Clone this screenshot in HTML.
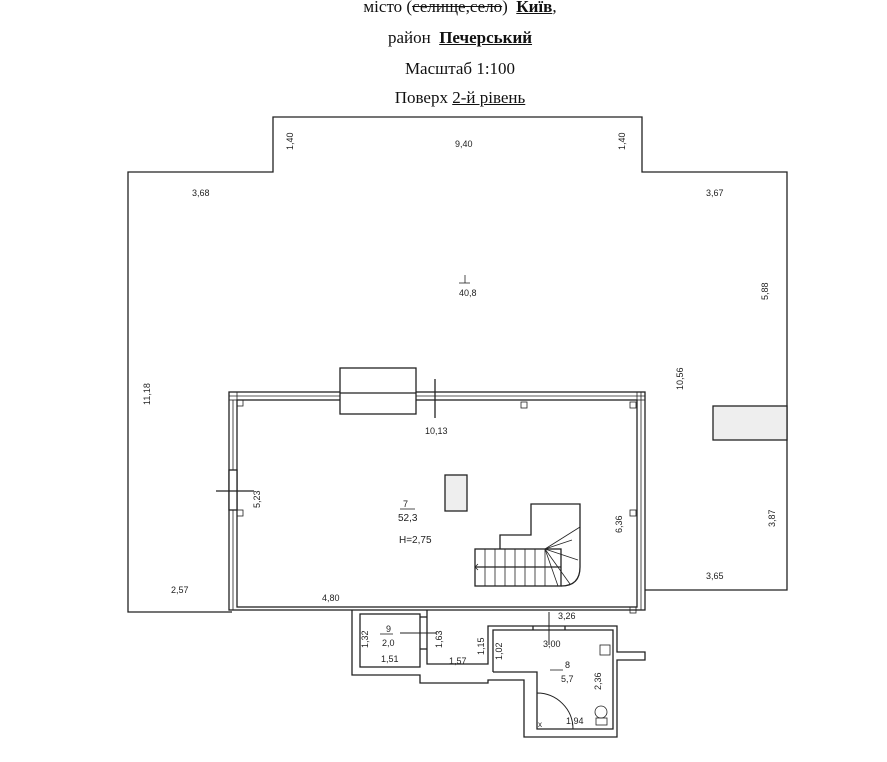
<!DOCTYPE html>
<html><head><meta charset="utf-8"><style>
html,body{margin:0;padding:0;background:#fff;}
body{width:887px;height:762px;overflow:hidden;position:relative;font-family:"Liberation Serif",serif;}
.h{position:absolute;left:0;width:920px;text-align:center;font-size:17px;color:#111;}
</style></head><body>
<div class="h" style="top:-3px">місто (<s>селище,село</s>)&nbsp; <b><u>Київ</u></b>,</div>
<div class="h" style="top:28px">район&nbsp; <b><u>Печерський</u></b></div>
<div class="h" style="top:59px">Масштаб 1:100</div>
<div class="h" style="top:88px">Поверх <u>2-й рівень</u></div>
<svg width="887" height="762" style="position:absolute;left:0;top:0" font-family="Liberation Sans Narrow, Liberation Sans, sans-serif" font-size="9" fill="#222">
<g stroke="#222" stroke-width="1.3" fill="none">
<polyline points="232,612 128,612 128,172 273,172 273,117 642,117 642,172 787,172 787,590 645,590"/>
<!-- main room walls -->
<rect x="229" y="392" width="416" height="218" fill="none"/>
<rect x="237" y="400" width="400" height="207"/>
<line x1="229" y1="396" x2="645" y2="396" stroke-width="0.8"/>
<line x1="641" y1="392" x2="641" y2="610" stroke-width="0.8"/>
<line x1="233" y1="400" x2="233" y2="610" stroke-width="0.8"/>
<rect x="229" y="392" width="8" height="8" stroke-width="0.8"/>
<rect x="637" y="392" width="8" height="8" stroke-width="0.8"/>
<rect x="229" y="470" width="8" height="40" fill="#fff"/>
<rect x="237" y="400" width="6" height="6" stroke-width="0.8"/>
<rect x="521" y="402" width="6" height="6" stroke-width="0.8"/>
<rect x="630" y="402" width="6" height="6" stroke-width="0.8"/>
<rect x="237" y="510" width="6" height="6" stroke-width="0.8"/>
<rect x="630" y="510" width="6" height="6" stroke-width="0.8"/>
<rect x="630" y="607" width="6" height="6" stroke-width="0.8"/>
<line x1="216" y1="491" x2="254" y2="491"/>
<line x1="435" y1="379" x2="435" y2="418"/>
<rect x="340" y="368" width="76" height="46" fill="#fff"/>
<line x1="340" y1="393" x2="416" y2="393"/>
<rect x="445" y="475" width="22" height="36" fill="#eee"/>
<rect x="713" y="406" width="74" height="34" fill="#eee"/>
<!-- stairs -->
<rect x="475" y="549" width="86" height="37"/>
<polyline points="500,549 500,535 531,535 531,504 580,504 580,567"/>
<path d="M561,586 Q580,586 580,567"/>
<line x1="475" y1="567" x2="561" y2="567"/>
<g stroke-width="0.8">
<line x1="485" y1="549" x2="485" y2="586"/><line x1="495" y1="549" x2="495" y2="586"/>
<line x1="505" y1="549" x2="505" y2="586"/><line x1="515" y1="549" x2="515" y2="586"/>
<line x1="525" y1="549" x2="525" y2="586"/><line x1="535" y1="549" x2="535" y2="586"/>
<line x1="545" y1="549" x2="545" y2="586"/>
<line x1="545" y1="549" x2="580" y2="527"/><line x1="545" y1="549" x2="572" y2="540"/>
<line x1="545" y1="549" x2="578" y2="560"/><line x1="545" y1="549" x2="570" y2="584"/>
<line x1="545" y1="549" x2="558" y2="586"/>
<polyline points="478,564 475,567 478,570"/>
</g>
<!-- small rooms -->
<polyline points="352,610 352,675 420,675 420,683 488,683 488,680 524,680 524,737 617,737 617,660 645,660 645,652 617,652 617,626 488,626 488,664 427,664 427,610"/>
<rect x="360" y="614" width="60" height="53"/>
<line x1="420" y1="617" x2="427" y2="617"/><line x1="420" y1="649" x2="427" y2="649"/>
<polyline points="493,672 493,630 613,630 613,729 537,729 537,672 493,672"/>
<line x1="533" y1="626" x2="533" y2="630"/><line x1="565" y1="626" x2="565" y2="630"/>
<line x1="549" y1="612" x2="549" y2="645" stroke-width="1"/>
<line x1="400" y1="633" x2="437" y2="633" stroke-width="1"/>
<path d="M537,693 A36,36 0 0 1 573,729 L537,729 Z" stroke-width="1"/>
<rect x="600" y="645" width="10" height="10" stroke-width="0.8"/>
<circle cx="601" cy="712" r="6" stroke-width="0.8"/>
<rect x="596" y="718" width="11" height="7" stroke-width="0.8"/>
<line x1="380" y1="634" x2="393" y2="634" stroke-width="0.8"/>
<line x1="550" y1="670" x2="563" y2="670" stroke-width="0.8"/>
<line x1="400" y1="509" x2="415" y2="509" stroke-width="0.8"/>
<line x1="459" y1="283" x2="470" y2="283" stroke-width="0.8"/>
<line x1="465" y1="275" x2="465" y2="283" stroke-width="0.8"/>
</g>
<g stroke="none">
<text x="455" y="147">9,40</text>
<text x="192" y="196">3,68</text>
<text x="706" y="196">3,67</text>
<text x="459" y="296">40,8</text>
<text x="425" y="434">10,13</text>
<text x="403" y="507">7</text>
<text x="398" y="521" font-size="10">52,3</text>
<text x="399" y="543" font-size="10">H=2,75</text>
<text x="171" y="593">2,57</text>
<text x="322" y="601">4,80</text>
<text x="706" y="579">3,65</text>
<text x="558" y="619">3,26</text>
<text x="543" y="647">3,00</text>
<text x="565" y="668">8</text>
<text x="561" y="682">5,7</text>
<text x="386" y="632">9</text>
<text x="382" y="646">2,0</text>
<text x="381" y="662">1,51</text>
<text x="449" y="664">1,57</text>
<text x="566" y="724">1,94</text>
<text x="538" y="727" font-size="8">x</text>
<g>
<text transform="translate(293,150) rotate(-90)">1,40</text>
<text transform="translate(625,150) rotate(-90)">1,40</text>
<text transform="translate(768,300) rotate(-90)">5,88</text>
<text transform="translate(150,405) rotate(-90)">11,18</text>
<text transform="translate(683,390) rotate(-90)">10,56</text>
<text transform="translate(260,508) rotate(-90)">5,23</text>
<text transform="translate(622,533) rotate(-90)">6,36</text>
<text transform="translate(775,527) rotate(-90)">3,87</text>
<text transform="translate(368,648) rotate(-90)">1,32</text>
<text transform="translate(442,648) rotate(-90)">1,63</text>
<text transform="translate(484,655) rotate(-90)">1,15</text>
<text transform="translate(502,660) rotate(-90)">1,02</text>
<text transform="translate(601,690) rotate(-90)">2,36</text>
</g>
</g>
</svg>
</body></html>
